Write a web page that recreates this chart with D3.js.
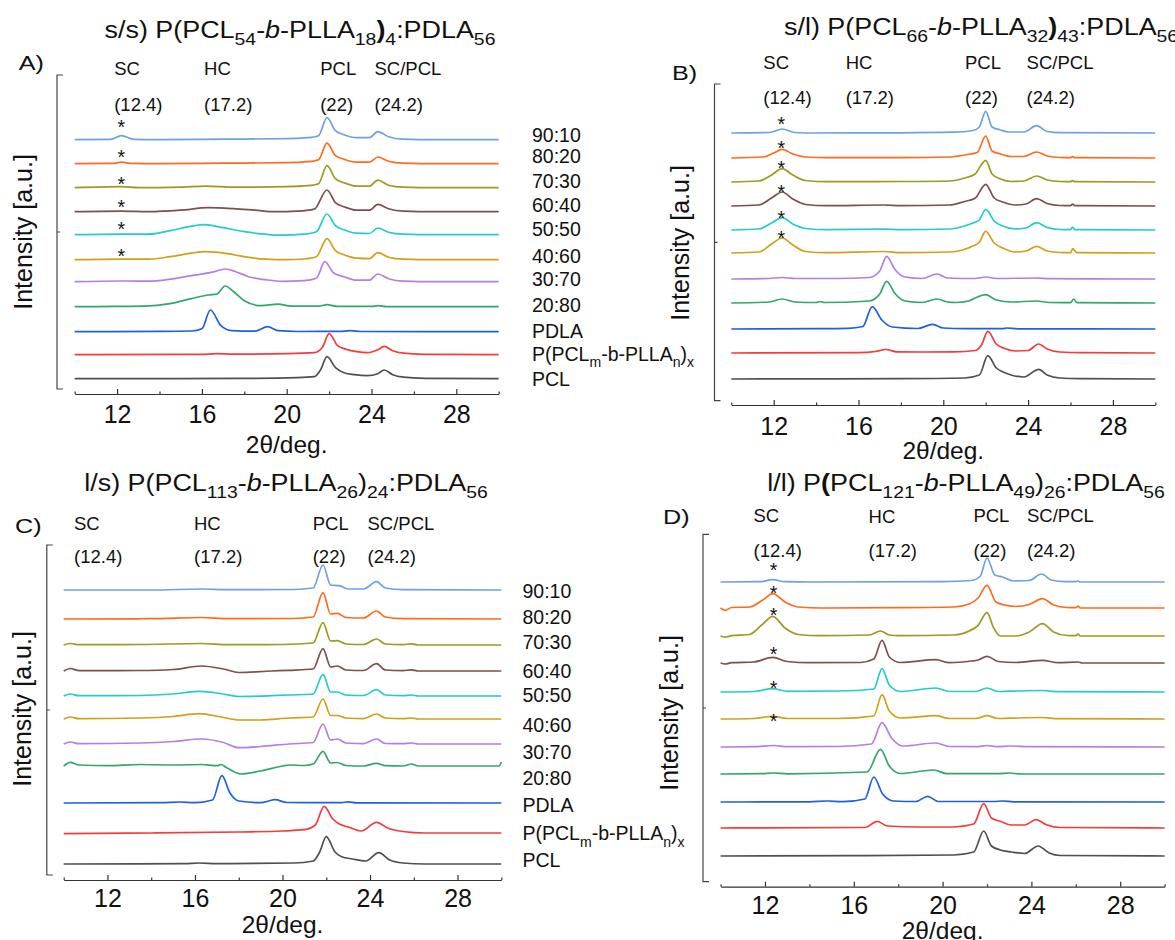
<!DOCTYPE html>
<html>
<head>
<meta charset="utf-8">
<script src="https://cdn.jsdelivr.net/npm/d3@7"></script>
<style>
  body { margin: 0; background: #fff; }
  svg { display: block; }
  text { font-family: "Liberation Sans", Arial, sans-serif; fill: #111; }
</style>
</head>
<body>
<svg id="chart" width="1175" height="940"></svg>
<script>
// ---- data (2θ in deg, intensity in a.u. above each trace's own baseline) ----
const sampleLabels = ["90:10", "80:20", "70:30", "60:40", "50:50", "40:60", "30:70", "20:80", "PDLA", "P(PCLm-b-PLLAn)x", "PCL"];
const traceColors = ["#6fa1dc", "#ff6b1a", "#9c9a23", "#7d4f4f", "#22cccc", "#d1a015", "#b37fe5", "#33a66b", "#1f60e0", "#f53b3b", "#505050"];
const peakNames = ["SC", "HC", "PCL", "SC/PCL"];
const peakAngles = ["(12.4)", "(17.2)", "(22)", "(24.2)"];
const majorTicks = [12, 16, 20, 24, 28];
const minorTicks = [10, 14, 18, 22, 26, 30];

// vertical stacking offsets (a.u.), top trace first
const offsetsA = [239, 215, 191, 167, 144, 119, 97, 72, 47, 24, 0];
const offsetsB = [246, 221, 197, 173, 149, 126, 100, 76, 50, 26, 0];
const offsetsC = [274, 245, 219, 193, 168, 145, 120, 98, 61, 31, 0];
const offsetsD = [274, 248, 220, 193, 164, 137, 109, 82, 54, 28, 0];

// each trace: flat list of 2θ, intensity pairs
const tracesA = [
  [10,0, 11.7,0.3, 12.2,4, 12.8,0.3, 14,0, 17,0.5, 20,1, 21,2, 21.5,4, 21.9,22, 22.3,9, 22.7,5, 23.3,2, 23.9,2, 24.3,8, 24.8,3, 25.5,0.5, 27,0, 30,0],
  [10,0, 11.8,0.3, 12.2,1.5, 12.7,0.3, 14,0, 17,0.5, 20,1, 21,2, 21.5,4, 21.9,20.5, 22.3,8, 22.7,4.5, 23.3,1.5, 23.9,1.5, 24.3,6.7, 24.8,2.5, 25.5,0.5, 27,0, 30,0],
  [10,0, 12.2,1, 13,0, 15,0.5, 16.2,1.5, 17.5,0.5, 20,1, 21,2, 21.5,4, 21.9,22, 22.3,9, 22.7,5, 23.3,1.5, 23.9,1.5, 24.3,7.5, 24.8,2.5, 25.5,0.5, 27,0, 30,0],
  [10,0, 12.2,0.5, 13.5,0, 15,1.5, 16.3,4, 17.5,3, 18.5,1.5, 19.5,0, 20.5,0.5, 21.3,2.5, 21.9,21.7, 22.3,9, 22.7,5, 23.3,1.5, 23.9,1.5, 24.3,7.3, 24.8,3, 25.5,0.5, 27,0, 30,0],
  [10,0, 12.2,0.5, 13.5,0.5, 14.5,4, 15.5,8.5, 16.1,10, 17,7, 18,3, 19,0.5, 19.8,-0.5, 20.8,0.5, 21.4,3, 21.9,20.7, 22.3,9, 22.7,5, 23.3,1.5, 23.9,1.2, 24.3,6.7, 24.8,2.5, 25.5,0.5, 27,0, 30,0],
  [10,0, 12.2,0.5, 13.5,0.5, 14.5,3, 15.5,6.5, 16.2,8, 17.2,6, 18,3, 19,0.5, 20,0, 20.8,0.7, 21.4,3, 21.9,21, 22.3,9, 22.7,5, 23.3,1.5, 23.9,1, 24.3,7, 24.8,2.5, 25.5,0.5, 27,0, 30,0],
  [10,0, 12.2,0.7, 13.5,0.5, 14.5,2.5, 15.5,6, 16.5,9.5, 17.1,12.7, 17.6,10, 18.2,5, 19,2, 19.8,0.3, 20.8,1, 21.4,3.5, 21.8,20, 22.2,9, 22.7,5, 23.3,1.5, 23.9,1.5, 24.3,7.7, 24.8,3, 25.5,0.5, 27,0, 30,0],
  [10,0, 12,0.3, 13.3,0.5, 14.5,3, 15.5,8, 16.3,11.7, 16.7,12.5, 17.1,20.7, 17.5,15, 18,6, 18.8,1, 19.6,2.5, 20.2,0.5, 21.5,0.5, 21.9,2, 22.4,0.3, 24,0.3, 24.3,1, 24.7,0, 30,0],
  [10,0, 14,0.3, 15.5,0.7, 16,3, 16.4,21.7, 16.9,6, 17.4,1, 18.5,0.5, 19.1,5, 19.6,1, 20.5,0.2, 22.5,0.3, 23,1, 23.5,0.2, 30,0],
  [10,0, 16,0.3, 16.7,1, 17.5,0.5, 20,1, 21.3,2, 21.7,8, 22,21, 22.4,9, 22.8,5.5, 23.3,3, 23.8,2, 24.3,5, 24.6,8.3, 25,4, 25.5,1.5, 26.5,0.3, 30,0],
  [10,0, 18,0.3, 20.5,1, 21.3,2, 21.6,9, 21.9,22, 22.3,11, 22.7,6, 23.2,4, 23.8,3, 24.3,5, 24.6,8.7, 25,4, 25.5,1.5, 26.5,0.3, 30,0]
];
const tracesB = [
  [10,0, 11.8,0.5, 12.4,4, 13,0.5, 14,0, 18,0.2, 20.5,0.8, 21.4,2.5, 21.7,6, 22,21.7, 22.3,6, 22.7,3, 23.1,1, 23.8,1, 24.4,7.3, 24.9,1.5, 25.5,0.3, 30,0],
  [10,0, 11.5,1, 12,5, 12.4,8.7, 12.9,4, 13.5,1, 14.5,0.3, 18,0.3, 20.3,1, 21,3, 21.6,5.5, 22,22, 22.3,7, 22.7,4, 23.2,1.5, 23.8,1.5, 24.4,6, 24.9,2, 25.5,0.5, 26,0.3, 26.1,1.3, 26.2,0.3, 30,0],
  [10,0, 11.3,1, 11.9,7, 12.4,13.3, 12.9,7, 13.5,1.5, 14.5,0.3, 18,0.5, 20.3,1, 21,4, 21.5,8, 22,21.7, 22.3,8, 22.7,3, 23.2,0.5, 23.8,1, 24.4,6, 24.9,2, 25.5,0.5, 26,0.3, 26.1,1.3, 26.2,0.3, 30,0],
  [10,0, 11.3,1, 11.9,8, 12.4,14, 12.9,7, 13.5,1.5, 14.5,0.3, 17.2,1, 18,0.3, 20.3,1, 21,4.5, 21.5,7.7, 22,21.7, 22.4,8, 22.8,4, 23.4,1, 23.9,2, 24.4,7.3, 24.9,2.5, 25.5,0.5, 26,0.3, 26.1,2, 26.2,0.3, 30,0],
  [10,0, 11.3,1, 11.9,7, 12.4,12.3, 12.9,6, 13.5,1.5, 14.5,0.3, 17.2,0.8, 18,0.3, 20.3,1, 21,4, 21.4,7, 21.7,10, 22,20.7, 22.4,9, 22.8,4, 23.4,1, 23.9,2, 24.4,7.3, 24.9,2.5, 25.5,0.5, 26,0.3, 26.1,3, 26.2,0.3, 30,0],
  [10,0, 11.3,1, 11.9,9, 12.4,15, 12.9,8, 13.5,1.5, 14.5,0.3, 17.2,1.5, 18,0.3, 20.3,1, 20.9,3, 21.4,7, 21.7,10.7, 22,21.7, 22.4,10, 22.8,5, 23.4,1, 23.9,2, 24.4,6.7, 24.9,2, 25.5,0.5, 26,0.3, 26.1,4.3, 26.3,0.3, 30,0],
  [10,0, 11.8,0.5, 12.4,1.5, 13,0.5, 15,0.5, 16.5,1.5, 17,8, 17.33,22.7, 17.7,10, 18.2,2, 19,0.5, 19.7,5, 20.2,1, 21.5,0.5, 22,2, 22.5,0.5, 24.4,1, 25,0.3, 30,0],
  [10,0, 11.8,1, 12.4,4, 13,1, 14,0.5, 14.2,1.5, 14.4,0.5, 16.5,2, 17,9, 17.33,21.7, 17.7,10, 18.2,2, 19,0.5, 19.7,4, 20.2,1, 20.6,0.5, 21.2,2, 21.5,5, 22,8.3, 22.5,3, 23.2,1, 24.4,2, 25,0.5, 26,0.3, 26.15,4, 26.3,0.3, 30,0],
  [10,0, 14,0.3, 15.5,0.7, 16.2,2.5, 16.65,22.3, 17.1,9, 17.6,2, 18.8,0.5, 19.5,4.7, 20,1, 21,0.3, 22.8,0.3, 23,1, 23.5,0.2, 30,0],
  [10,0, 16,0.3, 16.8,1.5, 17.3,3.5, 17.8,1.2, 19,1, 20.5,1.2, 21.5,2.5, 21.8,8, 22.1,21.7, 22.5,9, 22.9,4.5, 23.4,2, 24,2.5, 24.5,9, 24.9,4, 25.5,1, 26.5,0.3, 30,0],
  [10,0, 18,0.3, 21,1, 21.7,4, 22.1,23.3, 22.5,11, 22.8,7.3, 23.2,4, 23.8,2, 24.5,9.7, 24.9,4, 25.5,1, 26.5,0.3, 30,0]
];
const tracesC = [
  [10,0, 14,0, 16.3,1, 17.5,0.3, 20.5,0.5, 21.4,2, 21.85,25, 22.2,5, 22.6,4.3, 23,1, 23.7,1, 24.3,8.3, 24.7,2, 25.5,0.3, 30,0],
  [10,0, 14,0.3, 16.3,1.5, 17.5,0.3, 20.5,0.5, 21.4,2, 21.85,26.3, 22.2,5, 22.5,5.7, 22.9,1.5, 23.7,1, 24.3,8, 24.7,2, 25.5,0.3, 30,0],
  [10,0, 10.3,1.5, 10.7,0.3, 13.5,0.5, 16.3,1.5, 17.5,0.3, 20,0.5, 21.4,2, 21.85,22.3, 22.2,4, 22.5,4.3, 22.9,1, 23.7,0.5, 24.3,6, 24.7,1, 25.5,0.3, 25.9,1.2, 26.2,0, 30,0],
  [10,0, 10.3,2.5, 10.7,0.3, 13.5,0.5, 15,1.5, 16.3,5, 17.3,2, 18,-1.5, 19.5,0, 20.3,0.7, 21.4,2, 21.85,22.3, 22.2,4, 22.5,5, 22.9,1, 23.7,0.5, 24.3,7.3, 24.7,1, 25.5,0.3, 25.9,1.2, 26.2,0, 30,0],
  [10,0, 10.3,2, 10.7,0.3, 13.5,0.5, 15,2, 16.2,4.7, 17.3,2, 18,-0.5, 19.5,0.3, 20.3,1, 21.4,2, 21.85,21.7, 22.2,4, 22.5,4, 22.9,1, 23.7,0.5, 24.3,6.3, 24.7,1, 25.5,0.3, 25.9,1, 26.2,0, 30,0],
  [10,0, 10.3,2, 10.7,0.3, 13.5,1, 15,2.5, 16.2,5.3, 17.2,2, 18,-1, 19,-1, 20.3,1, 21.4,2, 21.85,20, 22.2,3.5, 22.5,3.5, 22.9,1, 23.7,0.3, 24.3,5, 24.7,1, 25.5,0.3, 25.9,1, 26.2,0, 30,0],
  [10,0, 10.3,2, 10.7,0.3, 13.5,1, 15,2.5, 16.3,5, 17.3,1.5, 18,-3.7, 19,-2.5, 20.3,0, 21.4,1.5, 21.85,20, 22.2,4, 22.5,5, 22.9,1, 23.7,0.3, 24.3,5, 24.7,0.5, 25.5,0.3, 25.9,1, 26.2,0, 30,0],
  [10,0, 10.3,3.7, 10.7,1, 12,0.3, 13.5,1.5, 15,1, 16.3,1.5, 17,0.3, 17.2,1.5, 17.4,-1, 18.1,-8, 19,-5, 20,0, 20.3,1, 21,0.5, 21.4,2, 21.85,14.7, 22.2,3, 22.5,3.5, 22.9,0.5, 23.7,0, 24.3,2.7, 24.7,0.3, 25.5,0, 25.9,2, 26.2,0, 29.9,0, 30,4],
  [10,0, 14.5,0.3, 15.3,1, 16,0.3, 16.8,3, 17.23,27.3, 17.6,10, 18,2, 19,0.3, 19.66,3.3, 20.2,0.5, 22.7,0.3, 23,1.2, 23.4,0.2, 30,0],
  [10,-0.7, 14,0, 18,1, 20,2, 21,3.3, 21.5,8, 21.9,26.7, 22.3,14, 22.6,9, 23,6, 23.6,2, 24.3,10.7, 24.8,5, 25.5,1.5, 26.5,0, 30,0],
  [10,0, 15.5,0.3, 16.2,1, 17,0.3, 20.5,1, 21.4,3, 21.7,12, 22,27.3, 22.4,12, 22.7,7.3, 23.2,5, 23.8,3, 24.4,11.3, 24.9,4, 25.5,1, 26.5,0, 30,0]
];
const tracesD = [
  [10,0, 11.8,0.3, 12.35,2.3, 12.9,0.3, 14,0, 20,0.3, 21.3,1.5, 21.7,6, 22,24, 22.35,7, 22.7,5, 23.2,1, 23.9,1.5, 24.45,8, 24.9,2, 25.5,0.3, 26,0.3, 26.1,1, 26.2,0, 30,0],
  [10,0, 10.2,-2.3, 10.5,0.5, 11.3,1, 11.9,8, 12.35,14.3, 12.9,6, 13.5,1, 14.5,0, 18,0.3, 20.5,1, 21.2,4, 21.6,10, 22,22.7, 22.4,6, 22.8,3, 23.3,1.5, 23.9,3.5, 24.5,9.3, 25,3, 25.6,0.5, 26,0.3, 26.1,2, 26.2,0, 30,0],
  [10,0, 10.2,-1, 10.5,0.3, 11.3,1.5, 11.9,12, 12.35,19.7, 12.9,8, 13.5,1.5, 14.5,0.3, 16.7,1, 17.2,5, 17.6,1, 18,0.3, 20.5,1, 21.2,5, 21.6,10.7, 22,23.3, 22.3,8, 22.6,0, 23.3,0, 23.9,4, 24.5,12.3, 25,4, 25.6,0.5, 26,0.3, 26.1,2, 26.2,0, 30,0],
  [10,0, 10.2,-1, 10.5,0.3, 11.5,1, 12.35,5.7, 13,1.5, 14,0.3, 16.3,0.5, 16.9,4, 17.27,22.7, 17.6,6, 18.1,0.5, 19.7,3.3, 20.3,0.3, 21.3,2, 21.6,3, 22,6.7, 22.5,1.5, 23.3,0.5, 24.5,2.7, 25.2,0.3, 26.1,1, 26.3,0, 30,0],
  [10,0, 11.5,0.5, 12.35,3.3, 13,0.7, 15.3,1, 16.9,3, 17.27,23.3, 17.6,7, 18.1,0.5, 19.7,4, 20.3,0.5, 21.5,0.5, 22,4, 22.5,0.5, 23,0.8, 24.5,1.5, 25.2,0.3, 30,0],
  [10,0, 11.5,0.5, 12.35,2.7, 13,0.5, 15.3,0.5, 16.9,3, 17.27,24.3, 17.6,8, 18.1,1, 19.7,3.3, 20.3,0.5, 21.5,0.5, 22,3.3, 22.5,0.5, 23,0.8, 24.5,1.5, 25.2,0.3, 30,0],
  [10,0, 11.5,0.3, 12.4,1.5, 13,0.3, 15.3,0.5, 16.8,3, 17.27,24.3, 17.7,9, 18.2,1, 19.7,4, 20.3,0.5, 21.5,0.3, 22,1.5, 22.5,0.3, 23,1, 24,0.3, 30,0],
  [10,0, 11.8,0.3, 12.4,1, 13,0.2, 16.6,2, 17.2,24.7, 17.6,8, 18.1,0.5, 19.6,4, 20.2,0.3, 22.5,0.3, 23,1, 23.5,0, 30,0],
  [10,0, 14,0.2, 14.8,1, 15.5,0.3, 16.5,3, 16.9,25, 17.3,8, 17.8,1, 18.8,0.5, 19.33,5.7, 19.8,0.5, 22.3,0.5, 22.7,1, 23.2,0.2, 30,0],
  [10,0, 16.5,0.5, 17.06,6.7, 17.5,2, 19,1, 20.5,1, 21.4,4, 21.85,24.3, 22.2,10, 22.6,6.7, 23.1,3, 23.7,3, 24.2,8.3, 24.7,3, 25.3,0.5, 30,0],
  [10,0, 16,0.3, 20.5,1, 21.4,4, 21.85,25, 22.2,10, 22.6,6, 23.1,4, 23.7,2.5, 24.3,10, 24.8,3, 25.3,0.5, 30,0]
];

// panel titles as [text, kind] runs
const titleA = [["s/s) P(PCL"], ["54", "sub"], ["-"], ["b", "i"], ["-PLLA"], ["18", "sub"], [")", "b"], ["4", "sub"], [":PDLA"], ["56", "sub"]];
const titleB = [["s/l) P(PCL"], ["66", "sub"], ["-"], ["b", "i"], ["-PLLA"], ["32", "sub"], [")", "b"], ["43", "sub"], [":PDLA"], ["56", "sub"]];
const titleC = [["l/s) P(PCL"], ["113", "sub"], ["-"], ["b", "i"], ["-PLLA"], ["26", "sub"], [")"], ["24", "sub"], [":PDLA"], ["56", "sub"]];
const titleD = [["l/l) P"], ["(", "b"], ["PCL"], ["121", "sub"], ["-"], ["b", "i"], ["-PLLA"], ["49", "sub"], [")"], ["26", "sub"], [":PDLA"], ["56", "sub"]];
const copolymerLabel = [["P(PCL"], ["m", "sub"], ["-b-PLLA"], ["n", "sub"], [")"], ["x", "sub"]];

// ---- layout ----
const panels = [
  { letter: "A)", title: titleA, traces: tracesA, offsets: offsetsA,
    xRange: [74.7, 498.7], base: 378.7, axisY: 394, tickY: 422.5, xTitleY: 453,
    bracket: [57, 75, 389], yTitle: [31.7, 232],
    titlePos: [300, 38, "middle"], letterPos: [18.7, 69.6],
    peakX: [114.2, 204.1, 320.2, 374.5], peakNameY: [75, 75, 75, 75], peakValY: 111,
    star: { angle: 12.2, ys: [123, 152.7, 180, 202.7, 225, 251.7] },
    labels: { x: 532, ys: [135, 156, 180.7, 205, 229.3, 256, 279.3, 305, 330.7, 354, 379] } },
  { letter: "B)", title: titleB, traces: tracesB, offsets: offsetsB,
    xRange: [731.3, 1155.3], base: 379, axisY: 405, tickY: 434.5, xTitleY: 459,
    bracket: [714.5, 84, 400.7], yTitle: [689, 243],
    titlePos: [784, 35, "start"], letterPos: [672, 79.6],
    peakX: [763.3, 845.7, 965, 1026.6], peakNameY: [69, 69, 69, 69], peakValY: 104,
    star: { angle: 12.36, ys: [119.3, 143.3, 163.3, 187.7, 213.3, 233.3] } },
  { letter: "C)", title: titleC, traces: tracesC, offsets: offsetsC,
    xRange: [63.7, 501.3], base: 864, axisY: 880, tickY: 906.5, xTitleY: 933,
    bracket: [46.8, 545, 875], yTitle: [31, 709],
    titlePos: [286, 491, "middle"], letterPos: [15, 532.6],
    peakX: [74, 194, 312.7, 367.5], peakNameY: [529.7, 529.7, 529.7, 529.7], peakValY: 563,
    labels: { x: 522.5, ys: [590.7, 616.7, 641.7, 670.7, 695, 725, 751.7, 778.3, 805, 833.3, 860] } },
  { letter: "D)", title: titleD, traces: tracesD, offsets: offsetsD,
    xRange: [720.6, 1164.6], base: 856, axisY: 886.7, tickY: 914, xTitleY: 939,
    bracket: [703, 534.3, 881.7], yTitle: [678, 713],
    titlePos: [966, 491, "middle"], letterPos: [663, 523.6],
    peakX: [753.5, 868.6, 973.4, 1027], peakNameY: [521.7, 523.4, 521.7, 521.7], peakValY: 556.5,
    star: { angle: 12.38, ys: [566, 588.3, 610.7, 649.3, 683.3, 716.7] } }
];

const svg = d3.select("#chart");
const line = d3.line().curve(d3.curveMonotoneX);

function rich(sel, parts, fs) {
  let shift = 0;
  parts.forEach(([s, kind]) => {
    const ts = sel.append("tspan").text(s);
    const target = kind === "sub" ? fs * 0.32 : 0;
    if (target !== shift) { ts.attr("dy", target - shift); shift = target; }
    if (kind === "sub") ts.attr("font-size", fs * 0.72);
    if (kind === "i") ts.attr("font-style", "italic");
    if (kind === "b") ts.attr("font-weight", "bold");
  });
}

panels.forEach(p => {
  const g = svg.append("g");
  const x = d3.scaleLinear().domain([10, 30]).range(p.xRange);
  const y = d3.scaleLinear().domain([0, 300]).range([p.base, p.base - 300]);

  // traces
  p.traces.forEach((t, i) => {
    const pts = [];
    for (let k = 0; k < t.length; k += 2) pts.push([x(t[k]), y(t[k + 1] + p.offsets[i])]);
    g.append("path")
      .attr("d", line(pts))
      .attr("fill", "none")
      .attr("stroke", traceColors[i])
      .attr("stroke-width", 1.7)
      .attr("stroke-linejoin", "round");
  });

  // x axis: labelled major ticks + unlabelled minor ticks, both pointing up
  const major = g.append("g").attr("transform", `translate(0,${p.axisY})`)
    .call(d3.axisBottom(x).tickValues(majorTicks).tickSize(-5).tickSizeOuter(0).tickFormat(d3.format("d")));
  major.select(".domain").attr("stroke", "#333").attr("stroke-width", 1.2);
  major.selectAll(".tick line").attr("stroke", "#333").attr("stroke-width", 1.2);
  major.selectAll(".tick text")
    .attr("y", p.tickY - p.axisY).attr("dy", 0)
    .attr("font-size", 25).attr("font-family", null).attr("fill", "#111");
  const minor = g.append("g").attr("transform", `translate(0,${p.axisY})`)
    .call(d3.axisBottom(x).tickValues(minorTicks).tickSize(-2.5).tickSizeOuter(0).tickFormat(""));
  minor.select(".domain").remove();
  minor.selectAll(".tick line").attr("stroke", "#333").attr("stroke-width", 1.2);

  g.append("text")
    .attr("x", (p.xRange[0] + p.xRange[1]) / 2).attr("y", p.xTitleY)
    .attr("text-anchor", "middle").attr("font-size", 24.5)
    .text("2θ/deg.");

  // y bracket (no values)
  const [bx, by0, by1] = p.bracket;
  g.append("path")
    .attr("d", `M${bx + 6},${by0}H${bx}V${by1}H${bx + 6}M${bx},${(by0 + by1) / 2}H${bx + 3}`)
    .attr("fill", "none").attr("stroke", "#444").attr("stroke-width", 1.2);
  g.append("text")
    .attr("transform", `translate(${p.yTitle[0]},${p.yTitle[1]}) rotate(-90)`)
    .attr("text-anchor", "middle").attr("font-size", 25)
    .text("Intensity [a.u.]");

  // title and panel letter
  const tt = g.append("text")
    .attr("transform", `translate(${p.titlePos[0]},${p.titlePos[1]}) scale(1.17,1)`)
    .attr("text-anchor", p.titlePos[2]).attr("font-size", 23);
  rich(tt, p.title, 23);
  g.append("text")
    .attr("transform", `translate(${p.letterPos[0]},${p.letterPos[1]}) scale(1.2,1)`)
    .attr("font-size", 21).text(p.letter);

  // reflection labels
  peakNames.forEach((n, i) => {
    g.append("text").attr("x", p.peakX[i]).attr("y", p.peakNameY[i]).attr("font-size", 18.5).text(n);
    g.append("text").attr("x", p.peakX[i]).attr("y", p.peakValY).attr("font-size", 18.5).text(peakAngles[i]);
  });

  // asterisks over the SC reflection
  if (p.star) {
    p.star.ys.forEach(cy => {
      g.append("text").attr("x", x(p.star.angle)).attr("y", cy + 11.3)
        .attr("text-anchor", "middle").attr("font-size", 19.5).text("*");
    });
  }

  // sample labels
  if (p.labels) {
    sampleLabels.forEach((s, i) => {
      const t = g.append("text").attr("x", p.labels.x).attr("y", p.labels.ys[i] + 7).attr("font-size", 19.5);
      if (i === 9) rich(t, copolymerLabel, 19.5);
      else t.text(s);
    });
  }
});
</script>
</body>
</html>
